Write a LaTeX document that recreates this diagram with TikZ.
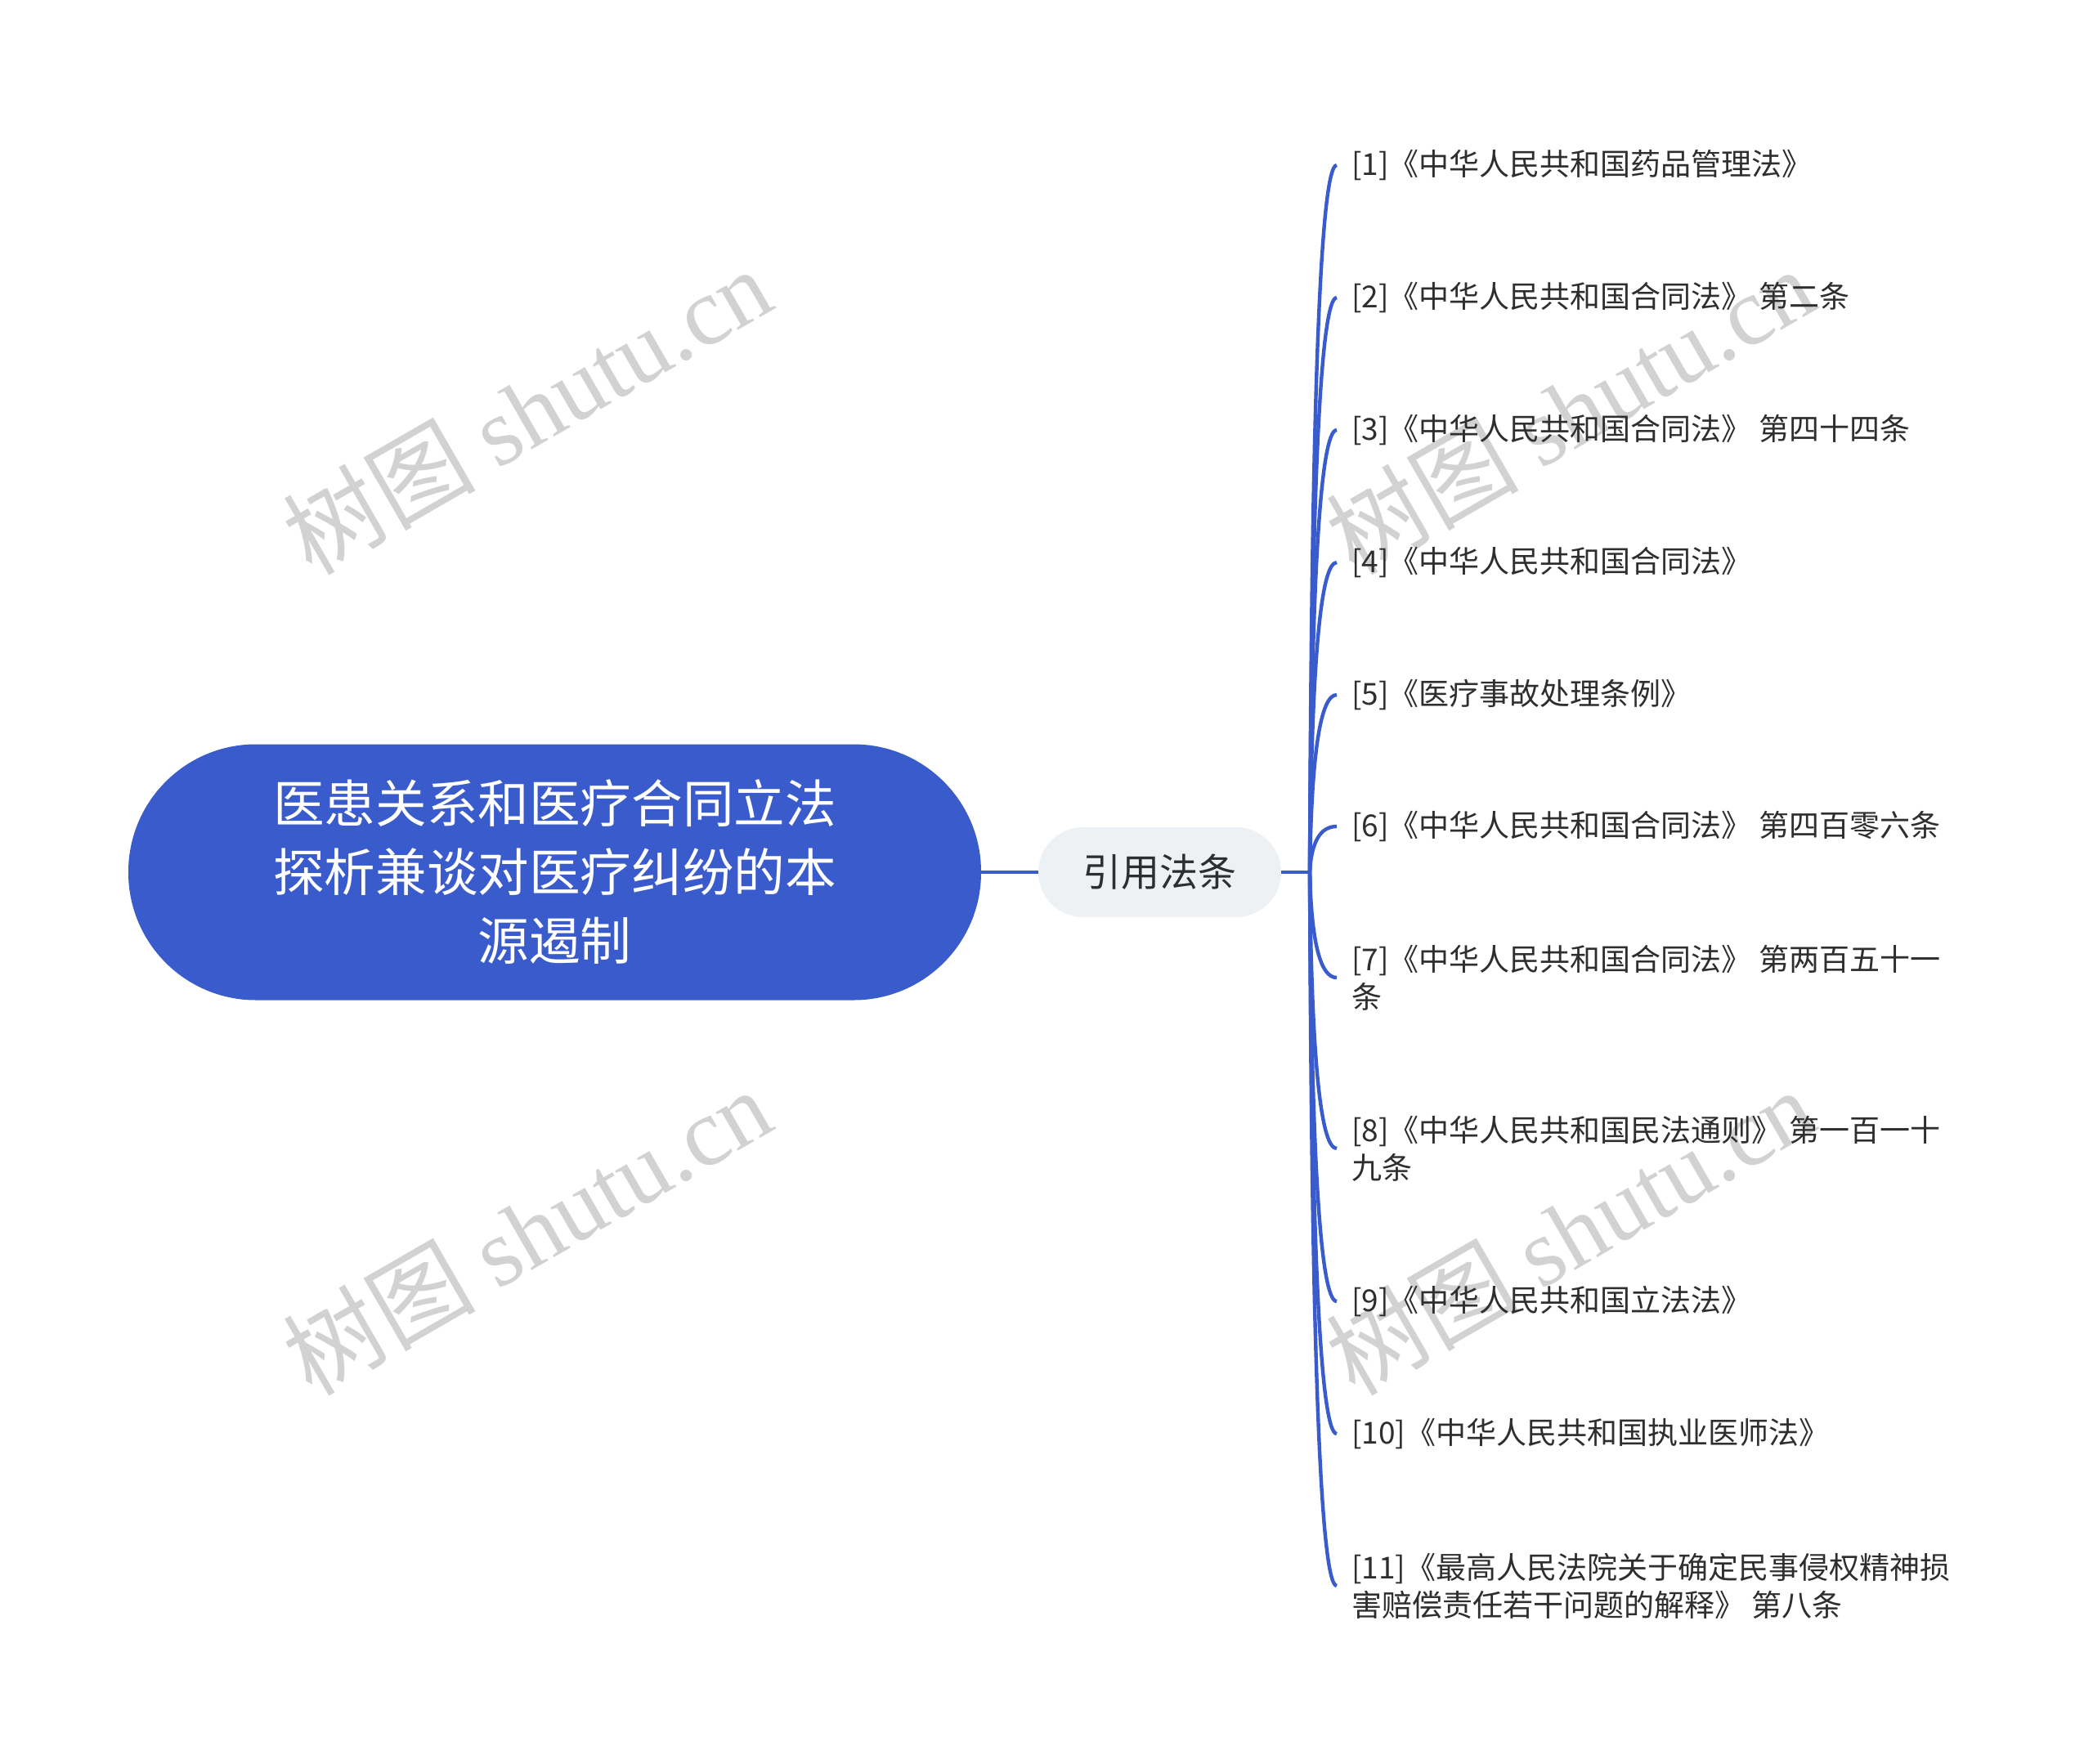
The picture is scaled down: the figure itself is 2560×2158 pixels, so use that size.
\documentclass[tikz,border=0pt]{standalone}
\usepackage{fontspec}
\newfontfamily\cjk{Noto Sans CJK SC}
\newfontfamily\wmlat{Liberation Serif}
\usetikzlibrary{calc}
\definecolor{mainblue}{HTML}{3A5BCB}
\definecolor{childgray}{HTML}{EEF1F4}
\definecolor{leaftext}{HTML}{2E2E2E}
\definecolor{wmgray}{HTML}{D2D2D2}
\begin{document}
\begin{tikzpicture}[x=0.5pt,y=-0.5pt,
  rootbox/.style={fill=mainblue, text=white, rounded corners=78pt,
    minimum width=521.5pt, minimum height=156.5pt, align=center, inner sep=0pt,
    font=\cjk\fontsize{31.3pt}{42pt}\selectfont},
  childbox/.style={fill=childgray, text=leaftext, rounded corners=27.5pt,
    minimum width=148.5pt, minimum height=55pt, inner sep=0pt,
    font=\cjk\fontsize{23.5pt}{28pt}\selectfont},
  leafbox/.style={anchor=west, text=leaftext, align=left, inner xsep=9pt, inner ysep=0pt,
    font=\cjk\fontsize{18.5pt}{23pt}\selectfont},
  link/.style={draw=mainblue, line width=2.3pt},
  curvelink/.style={draw=mainblue, line width=2.2pt},
  wm/.style={text=wmgray, rotate=30, inner sep=0pt,
    font=\fontsize{59pt}{66pt}\selectfont}
]
\useasboundingbox (0,0) rectangle (2560,2158);
\fill[white] (0,0) rectangle (2560,2158);

% watermarks
\node[wm] (w1) at (644,502) {\cjk 树图\ \wmlat shutu.cn};
\node[wm] (w2) at (644,1506) {\cjk 树图\ \wmlat shutu.cn};
\node[wm] (w3) at (1920,502) {\cjk 树图\ \wmlat shutu.cn};
\node[wm] (w4) at (1920,1506) {\cjk 树图\ \wmlat shutu.cn};

% main nodes
\node[rootbox] (root) at (678.5,1067) {医患关系和医疗合同立法\\探析兼谈对医疗纠纷的本\\源遏制};
\node[childbox] (child) at (1418.5,1067) {引用法条};
\coordinate (t) at (1602,1067);

% leaves
\node[leafbox] (l1) at (1635,202) {[1]《中华人民共和国药品管理法》};
\node[leafbox] (l2) at (1635,364) {[2]《中华人民共和国合同法》 第二条};
\node[leafbox] (l3) at (1635,526) {[3]《中华人民共和国合同法》 第四十四条};
\node[leafbox] (l4) at (1635,688) {[4]《中华人民共和国合同法》};
\node[leafbox] (l5) at (1635,850) {[5]《医疗事故处理条例》};
\node[leafbox] (l6) at (1635,1011) {[6]《中华人民共和国合同法》 第四百零六条};
\node[leafbox] (l7) at (1635,1196) {[7]《中华人民共和国合同法》 第两百五十一\\条};
\node[leafbox] (l8) at (1635,1405) {[8]《中华人民共和国民法通则》 第一百一十\\九条};
\node[leafbox] (l9) at (1635,1592) {[9]《中华人民共和国立法法》};
\node[leafbox] (l10) at (1635,1754) {[10]《中华人民共和国执业医师法》};
\node[leafbox] (l11) at (1635,1940) {[11]《最高人民法院关于确定民事侵权精神损\\害赔偿责任若干问题的解释》 第八条};

% connectors
\draw[link] (root.east) -- (child.west);
\draw[link] (child.east) -- (t);
\foreach \k in {1,...,11}{
  \coordinate (q\k) at ($(t |- l\k.west) + (3,0)$);
  \draw[curvelink] (t) .. controls ($(t)!0.6667!(q\k)$) and ($(l\k.west)!0.6667!(q\k)$) .. (l\k.west);
}
\end{tikzpicture}
\end{document}
